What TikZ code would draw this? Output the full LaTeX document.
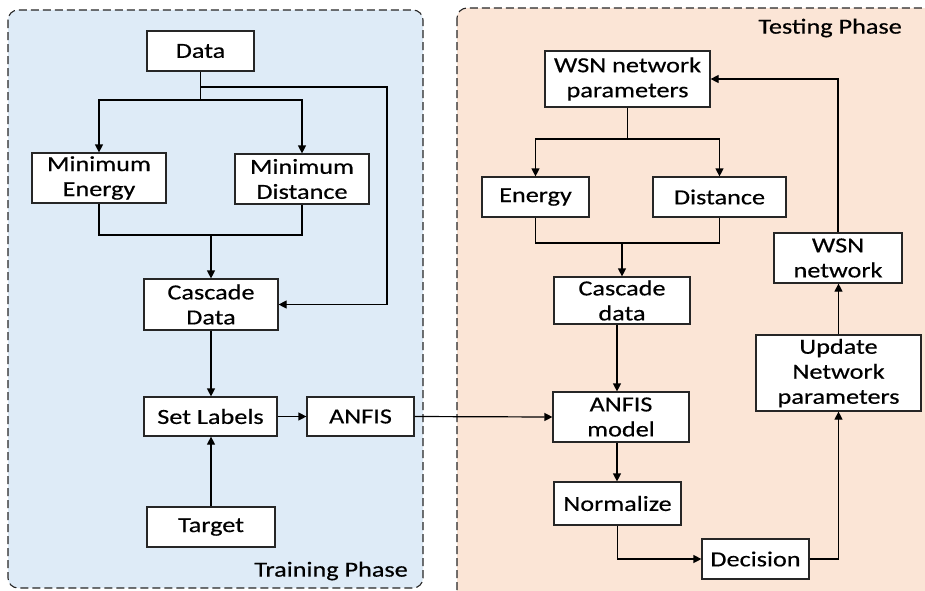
\documentclass[tikz,border=0pt]{standalone}
\usepackage{fontspec}
\setmainfont{Carlito}[FakeStretch=1.22,FakeBold=0.4]
\usetikzlibrary{arrows.meta,shadows}
\definecolor{trainbg}{HTML}{DEEBF7}
\definecolor{testbg}{HTML}{FBE5D6}
\definecolor{framec}{HTML}{262626}
\begin{document}
\begin{tikzpicture}[x=1pt,y=-1pt,
  box/.style={draw=black!85,line width=1.2pt,fill=white,align=center,inner sep=0pt,
    font=\fontsize{21.5}{25}\selectfont,
    drop shadow={shadow xshift=1.2pt,shadow yshift=-1.2pt,opacity=0.25,fill=black}},
  arr/.style={line width=1.2pt,-{Triangle[length=8pt,width=8pt]}},
  ln/.style={line width=1.2pt},
  phase/.style={draw=framec,line width=1.1pt,dash pattern=on 8pt off 4pt,rounded corners=10pt},
  lbl/.style={font=\fontsize{21.5}{25}\selectfont,inner sep=0pt}]
\useasboundingbox (0,0) rectangle (925,590);
\begin{scope}
\clip (0,0) rectangle (925,590);
\draw[phase,fill=trainbg] (8,10) rectangle (423,588);
\draw[phase,fill=testbg] (457,8) rectangle (945,610);
\end{scope}
\node[lbl,anchor=east] (trainlbl) at (408,571) {Training Phase};
\node[lbl,anchor=east] (testlbl) at (902,28) {Testing Phase};
% left nodes
\node[box,minimum width=107pt,minimum height=40pt] (data) at (200.5,51) {Data};
\node[box,minimum width=134pt,minimum height=50pt] (menergy) at (99,178) {Minimum\\Energy};
\node[box,minimum width=134pt,minimum height=50pt] (mdist) at (302,179) {Minimum\\Distance};
\node[box,minimum width=134pt,minimum height=51pt] (cdata) at (211,304.5) {Cascade\\Data};
\node[box,minimum width=133pt,minimum height=39pt] (setl) at (210.5,416.5) {Set Labels};
\node[box,minimum width=107pt,minimum height=39pt] (anfis) at (360.5,416.5) {ANFIS};
\node[box,minimum width=128pt,minimum height=40pt] (target) at (211,527) {Target};
% right nodes
\node[box,minimum width=165pt,minimum height=56pt] (wsnp) at (627.5,79) {WSN network\\parameters};
\node[box,minimum width=107pt,minimum height=40pt] (energy) at (535.5,197) {Energy};
\node[box,minimum width=133pt,minimum height=40pt] (dist) at (719.5,197) {Distance};
\node[box,minimum width=136pt,minimum height=47pt] (cdata2) at (622,300.5) {Cascade\\data};
\node[box,minimum width=128pt,minimum height=50pt] (wsnn) at (838,258) {WSN\\network};
\node[box,minimum width=165pt,minimum height=76pt] (update) at (838.5,373) {Update\\Network\\parameters};
\node[box,minimum width=136pt,minimum height=50pt] (amodel) at (621,417) {ANFIS\\model};
\node[box,minimum width=127pt,minimum height=43pt] (norm) at (617.5,503.5) {Normalize};
\node[box,minimum width=107pt,minimum height=40pt] (dec) at (755.5,559) {Decision};
% left connectors
\coordinate (j1) at (200.5,100);
\coordinate (j2) at (200.5,87);
\coordinate (j3) at (387,87);
\coordinate (j4) at (211,235);
\draw[ln] (data.south) -- (j1);
\draw[arr] (j1) -| (menergy.north);
\draw[arr] (j1) -| (mdist.north);
\draw[arr] (j2) -- (j3) |- (cdata.east);
\draw[ln] (menergy.south) |- (j4) -| (mdist.south);
\draw[arr] (j4) -- (cdata.north);
\draw[arr] (cdata.south) -- (cdata.south |- setl.north);
\draw[arr] (target.north) -- (target.north |- setl.south);
\draw[arr] (setl.east) -- (anfis.west);
\draw[arr] (anfis.east) -- (amodel.west);
% right connectors
\coordinate (k1) at (627.5,139);
\coordinate (k2) at (622,243);
\draw[ln] (wsnp.south) -- (k1);
\draw[arr] (k1) -| (energy.north);
\draw[arr] (k1) -| (dist.north);
\draw[ln] (energy.south) |- (k2) -| (dist.south);
\draw[arr] (k2) -- (cdata2.north);
\draw[arr] ([xshift=-4pt]amodel.north |- cdata2.south) -- ([xshift=-4pt]amodel.north);
\draw[arr] ([xshift=-4pt]amodel.south) -- ([xshift=-4pt]amodel.south |- norm.north);
\draw[arr] (norm.south) |- (dec.west);
\draw[arr] (dec.east) -| (update.south);
\draw[arr] (update.north) -- (update.north |- wsnn.south);
\draw[arr] (wsnn.north) |- (wsnp.east);
\end{tikzpicture}
\end{document}
